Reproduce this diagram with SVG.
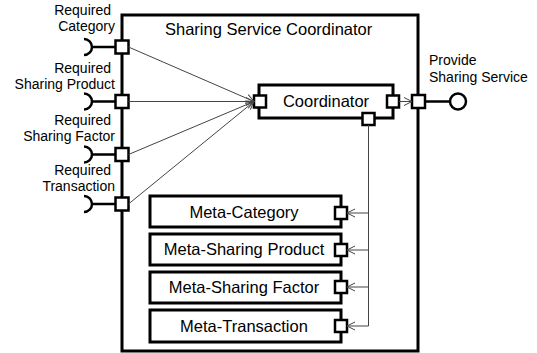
<svg xmlns="http://www.w3.org/2000/svg" width="537" height="353" viewBox="0 0 537 353">
<defs>
<style>
text{font-family:"Liberation Sans",Arial,sans-serif;fill:#000}
.lbl{font-size:14px}
.big{font-size:16.5px}
.box{fill:#fff;stroke:#000;stroke-width:3}
.port{fill:#fff;stroke:#000;stroke-width:2.5}
.wire{fill:none;stroke:#000;stroke-width:2.5}
.conn{fill:none;stroke:#444;stroke-width:1}
</style>
<marker id="arr" markerWidth="10" markerHeight="10" refX="9" refY="5" orient="auto" markerUnits="userSpaceOnUse">
<path d="M1,1 L9,5 L1,9" fill="none" stroke="#444" stroke-width="1"/>
</marker>
</defs>

<g id="outer">
<rect class="box" x="122" y="15" width="296" height="336"/>
<text class="big" x="165" y="35">Sharing Service Coordinator</text>
</g>

<g id="req-category">
<text class="lbl" x="111" y="15" text-anchor="end">Required</text>
<text class="lbl" x="115" y="31" text-anchor="end">Category</text>
<path class="wire" d="M84,39 A8,8 0 0 1 84,55 M92,47 H116"/>
<rect class="port" x="115.5" y="40.5" width="13" height="13"/>
</g>
<g id="req-product">
<text class="lbl" x="111" y="73" text-anchor="end">Required</text>
<text class="lbl" x="115" y="89" text-anchor="end">Sharing Product</text>
<path class="wire" d="M84,93.5 A8,8 0 0 1 84,109.5 M92,101.5 H116"/>
<rect class="port" x="115.5" y="95" width="13" height="13"/>
</g>
<g id="req-factor">
<text class="lbl" x="111" y="125" text-anchor="end">Required</text>
<text class="lbl" x="115" y="141" text-anchor="end">Sharing Factor</text>
<path class="wire" d="M84,146.5 A8,8 0 0 1 84,162.5 M92,154.5 H116"/>
<rect class="port" x="115.5" y="148" width="13" height="13"/>
</g>
<g id="req-transaction">
<text class="lbl" x="111" y="175" text-anchor="end">Required</text>
<text class="lbl" x="115" y="191" text-anchor="end">Transaction</text>
<path class="wire" d="M84,196 A8,8 0 0 1 84,212 M92,204 H116"/>
<rect class="port" x="115.5" y="197.5" width="13" height="13"/>
</g>

<g id="provide">
<text class="lbl" x="429" y="65">Provide</text>
<text class="lbl" x="429" y="82">Sharing Service</text>
<path class="wire" d="M425,101.5 H450"/>
<circle cx="458" cy="101.5" r="8" fill="#fff" stroke="#000" stroke-width="2.5"/>
<rect class="port" x="412" y="95" width="13" height="13"/>
</g>

<g id="coordinator">
<rect class="box" x="259" y="85" width="134" height="33"/>
<text class="big" x="326" y="107" text-anchor="middle">Coordinator</text>
<rect class="port" x="254" y="95.5" width="12" height="12"/>
<rect class="port" x="387" y="95.5" width="12" height="12"/>
<rect class="port" x="362.5" y="113" width="12" height="12"/>
</g>

<g id="meta-category">
<rect class="box" x="150" y="196" width="191" height="31"/>
<text class="big" x="244" y="218" text-anchor="middle">Meta-Category</text>
<rect class="port" x="335" y="207" width="12" height="12"/>
</g>
<g id="meta-product">
<rect class="box" x="150" y="234" width="191" height="31"/>
<text class="big" x="244" y="255" text-anchor="middle">Meta-Sharing Product</text>
<rect class="port" x="335" y="244" width="12" height="12"/>
</g>
<g id="meta-factor">
<rect class="box" x="150" y="272" width="191" height="31"/>
<text class="big" x="244" y="293" text-anchor="middle">Meta-Sharing Factor</text>
<rect class="port" x="335" y="281" width="12" height="12"/>
</g>
<g id="meta-transaction">
<rect class="box" x="150" y="310" width="191" height="32"/>
<text class="big" x="244" y="332" text-anchor="middle">Meta-Transaction</text>
<rect class="port" x="335" y="320" width="12" height="12"/>
</g>

<g id="connectors">
<path class="conn" d="M128.5,47 L254,101.5" marker-end="url(#arr)"/>
<path class="conn" d="M128.5,101.5 L254,101.5" marker-end="url(#arr)"/>
<path class="conn" d="M128.5,154.5 L254,101.5" marker-end="url(#arr)"/>
<path class="conn" d="M128.5,204 L254,101.5" marker-end="url(#arr)"/>
<path class="conn" d="M399,101.5 L412,101.5" marker-end="url(#arr)"/>
<path class="conn" d="M368.5,125 V326"/>
<path class="conn" d="M368.5,213 H347" marker-end="url(#arr)"/>
<path class="conn" d="M368.5,250 H347" marker-end="url(#arr)"/>
<path class="conn" d="M368.5,287 H347" marker-end="url(#arr)"/>
<path class="conn" d="M368.5,326 H347" marker-end="url(#arr)"/>
</g>
</svg>
